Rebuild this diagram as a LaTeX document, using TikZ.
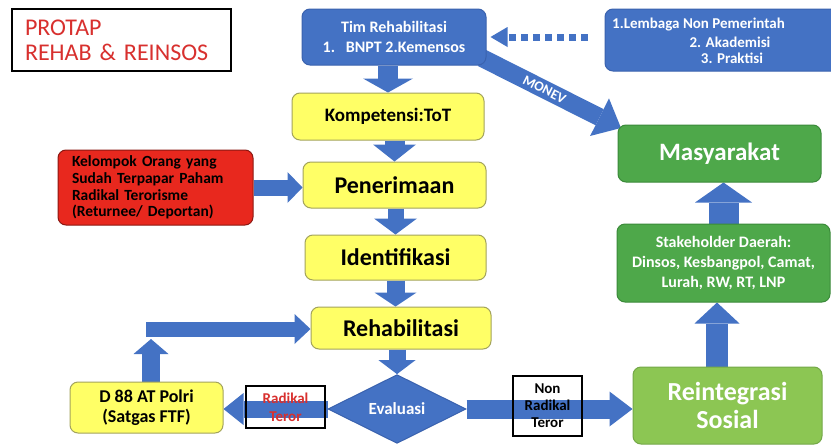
\documentclass[tikz,border=0pt]{standalone}
\usepackage{fontspec}
\setmainfont{Carlito}
\usetikzlibrary{arrows.meta,shapes.geometric,shadows}
\definecolor{bl}{HTML}{4472C4}
\definecolor{blb}{HTML}{3A62AE}
\definecolor{yl}{HTML}{FFFF66}
\definecolor{ylb}{HTML}{A3A35C}
\definecolor{rd}{HTML}{E8281E}
\definecolor{gr}{HTML}{4EA84A}
\definecolor{grb}{HTML}{3B8A3A}
\definecolor{lg}{HTML}{8CC653}
\definecolor{lgb}{HTML}{74A848}
\definecolor{tred}{HTML}{D8302E}
\pgfdeclarelayer{bg}
\pgfsetlayers{bg,main}
\newcommand\fs[2]{\fontsize{#1}{#2}\selectfont}
\begin{document}
\begin{tikzpicture}[x=1pt,y=-1pt,
  box/.style={rounded corners=8pt, line width=1pt, inner sep=0pt, align=center},
  ybox/.style={box, fill=yl, draw=ylb},
  bbox/.style={box, fill=bl, draw=blb, text=white},
  gbox/.style={box, fill=gr, draw=grb, text=white},
  barrow/.style args={#1/#2/#3}{draw=bl, line width=#1pt,
     -{Triangle[length=#3pt,width=#2pt,line width=0pt]}},
  lbl/.style={draw=black, line width=1.5pt, inner sep=0pt, align=center}
  ]
\useasboundingbox (0,0) rectangle (831,445);

% title
\node[draw=black, line width=1.2pt, fill=white,
      drop shadow={shadow xshift=1.2pt, shadow yshift=-1.2pt, fill=black!55},
      minimum width=219pt, minimum height=62pt, text width=193pt, inner xsep=13pt,
      align=left, text=tred, font=\fs{24}{25}] (title) at (121.5,40)
      {PROTAP\\REHAB \& REINSOS};

% top row
\node[bbox, minimum width=184pt, minimum height=56pt, font=\bfseries\fs{16}{20}] (tim) at (394,37)
      {Tim Rehabilitasi\\1.\ \ \ BNPT 2.Kemensos};
\node[bbox, minimum width=240pt, minimum height=62pt] (ngo) at (725,40) {};
\node[text=white, font=\bfseries\fs{15}{17}, anchor=west, inner sep=0pt] (ngoa) at (612,25) {1.Lembaga Non Pemerintah};
\node[text=white, font=\bfseries\fs{15}{17}, inner sep=0pt] (ngob) at (730,42) {2. Akademisi};
\node[text=white, font=\bfseries\fs{15}{17}, inner sep=0pt] (ngoc) at (732,58) {3. Praktisi};

% main column
\node[ybox, minimum width=192pt, minimum height=47pt, font=\bfseries\fs{19}{22}] (komp) at (388,116.5) {Kompetensi:ToT};
\node[ybox, minimum width=183pt, minimum height=46pt, font=\bfseries\fs{24}{28}] (pen) at (394.5,185) {Penerimaan};
\node[ybox, minimum width=181pt, minimum height=45pt, font=\bfseries\fs{24}{28}] (iden) at (395.5,257.5) {Identifikasi};
\node[ybox, minimum width=180pt, minimum height=42pt, font=\bfseries\fs{24}{28}] (rehab) at (401,328) {Rehabilitasi};
\node[diamond, fill=bl, draw=blb, line width=1pt, minimum width=138pt, minimum height=66pt,
      inner sep=0pt, text=white, font=\bfseries\fs{17}{20}] (eval) at (397,409) {Evaluasi};

% left
\node[box, fill=rd, draw=rd!60!black, minimum width=195pt, minimum height=75pt, text width=167pt,
      align=left, font=\bfseries\fs{15.5}{16.7}] (grp) at (155.5,187.5)
      {Kelompok Orang yang\\Sudah Terpapar Paham\\Radikal Terorisme\\(Returnee/ Deportan)};
\node[ybox, minimum width=153pt, minimum height=51pt, font=\bfseries\fs{18}{20}] (d88) at (146.5,407.5)
      {D 88 AT Polri\\(Satgas FTF)};

% right
\node[gbox, minimum width=203pt, minimum height=57pt, font=\bfseries\fs{25}{28}] (masy) at (719.5,153.5) {Masyarakat};
\node[gbox, minimum width=213pt, minimum height=78pt, font=\bfseries\fs{16}{20}] (stake) at (723.5,263)
      {Stakeholder Daerah:\\Dinsos, Kesbangpol, Camat,\\Lurah, RW, RT, LNP};
\node[box, fill=lg, draw=lgb, text=white, minimum width=189pt, minimum height=77pt,
      font=\bfseries\fs{26}{28}] (reint) at (727.5,405.5) {Reintegrasi\\Sosial};

% label boxes
\node[lbl, minimum width=79pt, minimum height=42pt, text=tred, font=\bfseries\fs{15}{18}] (rt) at (285.5,407) {Radikal\\Teror};
\node[lbl, minimum width=69pt, minimum height=60pt, font=\bfseries\fs{15}{17}] (nrt) at (547.5,406) {Non\\Radikal\\Teror};

\coordinate (rsx) at (717,0);
\coordinate (lup) at (151,339);
\coordinate (lh) at (146,329);
\coordinate (monA) at (482,58);
\coordinate (monB) at (621,128);

\begin{pgfonlayer}{bg}
\fill[white] (0,0) rectangle (831,445);
\draw[barrow=20/50/14] (tim.south -| komp) -- (komp.north);
\draw[barrow=20/43/17] (komp.south -| pen) -- (pen.north);
\draw[barrow=16/43/16] (pen.south -| iden) -- (iden.north);
\draw[barrow=18/42/14] (iden.south) -- (iden.south |- rehab.north);
\draw[barrow=17/37/14] (rehab.south -| eval) -- (eval.north);
\draw[barrow=16/31/15] (grp.east) -- (grp.east -| pen.west);
\draw[barrow=30/57/20] (stake.north) -- (stake.north |- masy.south);
\draw[barrow=22/45/21] (reint.north -| rsx) -- (stake.south -| rsx);
\draw[barrow=17/32/20] (eval.west) -- (eval.west -| d88.east);
\draw[barrow=19/35/23] (eval.east) -- (eval.east -| reint.west);
\draw[barrow=18/35/15] (d88.north -| lup) -- (lup);
\draw[barrow=15/30/16] (lh) -- (lh -| rehab.west);
\draw[barrow=18/42/24] (monA) -- node[sloped, pos=0.45, text=white, font=\bfseries\fs{14}{16}] (monev) {MONEV} (monB);
\draw[draw=bl, line width=7pt, dash pattern=on 7pt off 5pt, shorten <=17pt, shorten >=4pt,
      -{Triangle[length=17pt,width=20pt,line width=0pt]}] (tim.east -| ngo.west) -- (tim.east);
\end{pgfonlayer}
\end{tikzpicture}
\end{document}
